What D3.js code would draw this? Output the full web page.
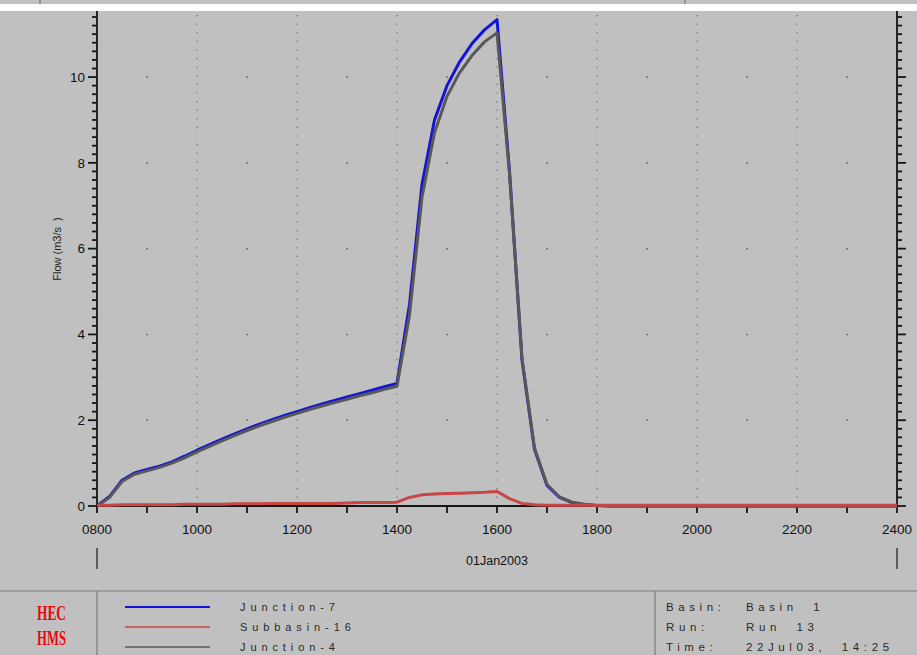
<!DOCTYPE html>
<html>
<head>
<meta charset="utf-8">
<script src="https://cdn.jsdelivr.net/npm/d3@7"></script>
<style>
  html, body { margin: 0; padding: 0; background: #c0c0c0; }
  svg { display: block; font-family: "Liberation Sans", Arial, sans-serif; }
</style>
</head>
<body>
<svg id="chart" width="917" height="655"></svg>
<script>
// Simulation times (15-minute output interval), 01Jan2003
const times = [
  "0800","0815","0830","0845","0900","0915","0930","0945",
  "1000","1015","1030","1045","1100","1115","1130","1145",
  "1200","1215","1230","1245","1300","1315","1330","1345",
  "1400","1415","1430","1445","1500","1515","1530","1545",
  "1600","1615","1630","1645","1700","1715","1730","1745",
  "1800","1815","1830","1845","1900","1915","1930","1945",
  "2000","2015","2030","2045","2100","2115","2130","2145",
  "2200","2215","2230","2245","2300","2315","2330","2345",
  "2400"
];

// Flow (m3/s) at Junction-7
const junction7 = [
  0.00, 0.22, 0.60, 0.77, 0.85, 0.93, 1.03, 1.16,
  1.30, 1.43, 1.56, 1.68, 1.80, 1.91, 2.01, 2.11,
  2.20, 2.29, 2.38, 2.46, 2.54, 2.62, 2.70, 2.78,
  2.86, 4.70, 7.50, 9.00, 9.80, 10.35, 10.78, 11.10,
  11.34, 7.80, 3.40, 1.32, 0.48, 0.20, 0.08, 0.03,
  0.01, 0.00, 0.00, 0.00, 0.00, 0.00, 0.00, 0.00,
  0.00, 0.00, 0.00, 0.00, 0.00, 0.00, 0.00, 0.00,
  0.00, 0.00, 0.00, 0.00, 0.00, 0.00, 0.00, 0.00,
  0.00
];

// Flow (m3/s) from Subbasin-16
const subbasin16 = [
  0.02, 0.02, 0.03, 0.03, 0.03, 0.03, 0.03, 0.04,
  0.04, 0.04, 0.04, 0.05, 0.05, 0.05, 0.06, 0.06,
  0.06, 0.06, 0.06, 0.06, 0.07, 0.08, 0.08, 0.08,
  0.09, 0.20, 0.26, 0.28, 0.29, 0.30, 0.31, 0.32,
  0.34, 0.17, 0.06, 0.03, 0.02, 0.02, 0.02, 0.02,
  0.02, 0.02, 0.02, 0.02, 0.02, 0.02, 0.02, 0.02,
  0.02, 0.02, 0.02, 0.02, 0.02, 0.02, 0.02, 0.02,
  0.02, 0.02, 0.02, 0.02, 0.02, 0.02, 0.02, 0.02,
  0.02
];

// Flow (m3/s) at Junction-4
const junction4 = [
  0.00, 0.20, 0.57, 0.74, 0.82, 0.90, 1.00, 1.12,
  1.26, 1.39, 1.52, 1.64, 1.76, 1.87, 1.97, 2.07,
  2.16, 2.25, 2.33, 2.41, 2.49, 2.57, 2.64, 2.72,
  2.79, 4.45, 7.20, 8.70, 9.55, 10.10, 10.50, 10.82,
  11.03, 7.75, 3.45, 1.35, 0.50, 0.21, 0.09, 0.04,
  0.01, 0.00, 0.00, 0.00, 0.00, 0.00, 0.00, 0.00,
  0.00, 0.00, 0.00, 0.00, 0.00, 0.00, 0.00, 0.00,
  0.00, 0.00, 0.00, 0.00, 0.00, 0.00, 0.00, 0.00,
  0.00
];

const seriesNames = ["Junction-7", "Subbasin-16", "Junction-4"];
const seriesColors = ["#1414d8", "#c84646", "#585858"];

const yTickLabels = [0, 2, 4, 6, 8, 10];
const xTickLabels = ["0800","1000","1200","1400","1600","1800","2000","2200","2400"];
const dateLabel = "01Jan2003";
const yTitle = "Flow (m3/s  )";

const infoKeys = ["Basin:", "Run:", "Time:"];
const infoValues = ["Basin  1", "Run  13", "22Jul03,  14:25"];

// ---------------------------------------------------------------------------
const svg = d3.select("#chart");
const W = 917, H = 655;
const plot = { left: 97, right: 897, top: 11, bottom: 506 };

const hourOf = s => +s.slice(0, 2) + (+s.slice(2)) / 60;

const x = d3.scaleLinear().domain([8, 24]).range([plot.left, plot.right]);
const y = d3.scaleLinear().domain([0, 11.54]).range([plot.bottom, plot.top]);

// background
svg.append("rect").attr("width", W).attr("height", H).attr("fill", "#c0c0c0");

// strip at the top (edge of the panel above) and white gap
svg.append("rect").attr("x", 0).attr("y", 4).attr("width", W).attr("height", 7).attr("fill", "#ffffff");
[40, 685].forEach(px => {
  svg.append("line").attr("x1", px).attr("x2", px).attr("y1", 0).attr("y2", 4)
    .attr("stroke", "#6a6a6a").attr("stroke-width", 1);
});

// vertical dotted grid lines at even hours
const gridG = svg.append("g");
const evenHours = xTickLabels.map(hourOf).filter(h => h > 8 && h < 24);
gridG.selectAll("line.vgrid").data(evenHours).join("line")
  .attr("class", "vgrid")
  .attr("x1", d => x(d)).attr("x2", d => x(d))
  .attr("y1", plot.top + 4).attr("y2", plot.bottom)
  .attr("stroke", "#6e6e6e").attr("stroke-width", 1.2)
  .attr("stroke-dasharray", "1.2,7.4");

// grid dots at odd hours on the labelled flow levels
const oddHours = d3.range(9, 24, 2);
const dotPts = [];
oddHours.forEach(h => yTickLabels.filter(v => v > 0).forEach(v => dotPts.push([h, v])));
gridG.selectAll("rect.gdot").data(dotPts).join("rect")
  .attr("class", "gdot")
  .attr("x", d => x(d[0]) - 0.7).attr("y", d => y(d[1]) - 0.7)
  .attr("width", 1.5).attr("height", 1.5).attr("fill", "#5a5a5a");

// tick marks
const axisColor = "#151515";
const tickW = 1.8;

const minorY = d3.range(1, 58).map(i => +(i * 0.2).toFixed(1))
  .filter(v => !yTickLabels.includes(v));

// left and right flow-axis ticks (minor every 0.2, major at labels)
const tickSpecs = [];
[[plot.left, -1], [plot.right, 1]].forEach(([ax, dir]) => {
  minorY.forEach(v => tickSpecs.push({ x0: ax, x1: ax + dir * 5, v }));
  yTickLabels.forEach(v => tickSpecs.push({ x0: ax, x1: ax + dir * 9, v }));
});
const tickG = svg.append("g");
tickG.selectAll("line.ytick").data(tickSpecs).join("line")
  .attr("class", "ytick")
  .attr("x1", d => d.x0).attr("x2", d => d.x1)
  .attr("y1", d => y(d.v)).attr("y2", d => y(d.v))
  .attr("stroke", axisColor).attr("stroke-width", tickW);

// hourly ticks on the time axis
const hourTicks = d3.range(8, 24.001, 1);
tickG.selectAll("line.xtick").data(hourTicks).join("line")
  .attr("class", "xtick")
  .attr("x1", d => x(d)).attr("x2", d => x(d))
  .attr("y1", plot.bottom).attr("y2", plot.bottom + 7)
  .attr("stroke", axisColor).attr("stroke-width", tickW);

// tick labels
svg.append("g").selectAll("text").data(yTickLabels).join("text")
  .attr("x", plot.left - 12).attr("y", d => y(d))
  .attr("dy", "0.36em").attr("text-anchor", "end")
  .attr("font-size", 13.5).attr("fill", "#111").text(d => d);

svg.append("g").selectAll("text").data(xTickLabels).join("text")
  .attr("x", d => x(hourOf(d))).attr("y", plot.bottom + 28)
  .attr("text-anchor", "middle")
  .attr("font-size", 13.5).attr("fill", "#111").text(d => d);

// axis frame lines
const frame = svg.append("g").attr("stroke", axisColor).attr("stroke-width", 1.8);
frame.append("line").attr("x1", plot.left).attr("x2", plot.left).attr("y1", plot.top).attr("y2", plot.bottom);
frame.append("line").attr("x1", plot.right).attr("x2", plot.right).attr("y1", plot.top).attr("y2", plot.bottom);
frame.append("line").attr("x1", plot.left).attr("x2", plot.right).attr("y1", plot.bottom).attr("y2", plot.bottom);

// date label with bracket bars
svg.append("text").attr("x", (plot.left + plot.right) / 2).attr("y", 565)
  .attr("text-anchor", "middle").attr("font-size", 12.5).attr("fill", "#111").text(dateLabel);
[plot.left, plot.right].forEach(px => {
  svg.append("line").attr("x1", px).attr("x2", px).attr("y1", 548).attr("y2", 569)
    .attr("stroke", "#333").attr("stroke-width", 1.4);
});

// y axis title
svg.append("text")
  .attr("transform", `translate(61,249) rotate(-90)`)
  .attr("text-anchor", "middle").attr("font-size", 11).attr("fill", "#222")
  .style("white-space", "pre")
  .text(yTitle);

// series lines
const line = d3.line()
  .x((d, i) => x(hourOf(times[i])))
  .y(d => y(d));

const plotted = [
  { values: junction7, color: seriesColors[0] },
  { values: junction4, color: seriesColors[2] },
  { values: subbasin16, color: seriesColors[1] }
];
svg.append("clipPath").attr("id", "plotClip")
  .append("rect").attr("x", plot.left).attr("y", plot.top - 2)
  .attr("width", plot.right - plot.left).attr("height", plot.bottom - plot.top + 4);
svg.append("g").attr("clip-path", "url(#plotClip)")
  .selectAll("path.series").data(plotted).join("path")
  .attr("class", "series")
  .attr("d", d => line(d.values))
  .attr("fill", "none")
  .attr("stroke", d => d.color)
  .attr("stroke-width", 3)
  .attr("stroke-linejoin", "round");

// ---------------------------------------------------------------------------
// footer panel: logo, legend and run information
const footTop = 591;
svg.append("line").attr("x1", 0).attr("x2", W).attr("y1", footTop).attr("y2", footTop)
  .attr("stroke", "#7a7a7a").attr("stroke-width", 1.2);
[97, 655].forEach(px => {
  svg.append("line").attr("x1", px).attr("x2", px).attr("y1", footTop).attr("y2", H)
    .attr("stroke", "#7a7a7a").attr("stroke-width", 1.2);
});

// HEC / HMS logo
[["HEC", 620], ["HMS", 645]].forEach(([t, yy]) => {
  svg.append("text").attr("x", 37).attr("y", yy)
    .attr("font-family", "Liberation Serif, 'Times New Roman', serif")
    .attr("font-weight", "bold").attr("font-size", 21).attr("fill", "#e80a0a")
    .attr("textLength", 29).attr("lengthAdjust", "spacingAndGlyphs")
    .text(t);
});

// legend entries
const legendRows = [607, 627, 647];
const legend = svg.append("g");
seriesNames.forEach((name, i) => {
  legend.append("line").attr("x1", 125).attr("x2", 210)
    .attr("y1", legendRows[i]).attr("y2", legendRows[i])
    .attr("stroke", seriesColors[i]).attr("stroke-width", i === 0 ? 2.2 : 1.6);
  legend.append("text").attr("x", 240).attr("y", legendRows[i] + 4)
    .attr("font-size", 11).attr("fill", "#2a2a2a")
    .attr("letter-spacing", "4.9px")
    .text(name);
});

// run information
infoKeys.forEach((k, i) => {
  svg.append("text").attr("x", 666).attr("y", legendRows[i] + 4)
    .attr("font-size", 11.5).attr("fill", "#2a2a2a").attr("letter-spacing", "4.6px").text(k);
  svg.append("text").attr("x", 746).attr("y", legendRows[i] + 4)
    .attr("font-size", 11.5).attr("fill", "#2a2a2a").attr("letter-spacing", "4.6px")
    .style("white-space", "pre")
    .text(infoValues[i]);
});
</script>
</body>
</html>
